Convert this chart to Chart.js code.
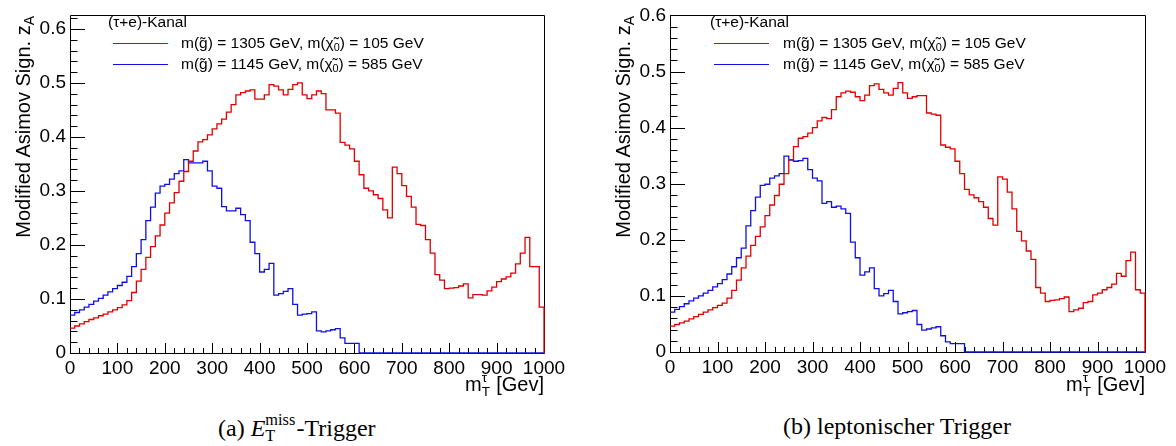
<!DOCTYPE html>
<html>
<head>
<meta charset="utf-8">
<script src="https://cdn.jsdelivr.net/npm/chart.js@4.4.0/dist/chart.umd.min.js"></script>
<style>
  body { margin: 0; background: #fff; width: 1176px; height: 446px; position: relative; overflow: hidden;
         font-family: "Liberation Sans", Arial, sans-serif; color: #000; }
  canvas { position: absolute; top: 0; }
  .txt { position: absolute; white-space: nowrap; }
  .ytitle { width: 260px; height: 24px; line-height: 24px; font-size: 20px; text-align: right; transform: rotate(-90deg); }
  .xtitle { font-size: 20px; line-height: 24px; text-align: right; }
  .leg { font-size: 15.5px; line-height: 18px; }
  .legline { position: absolute; width: 55px; height: 0; border-top: 1.3px solid; }
  .cap { font-family: "Liberation Serif", "Times New Roman", serif; font-size: 24px; line-height: 28px; }
  .stack { position: relative; display: inline-block; height: 1em; }
  .stack span { position: absolute; left: 0; font-size: 0.68em; line-height: 1; }
  .stack .up { top: 0; }
  .stack .dn { top: 1em; }
  sub { font-size: 0.7em; vertical-align: -0.3em; }
</style>
</head>
<body>
<canvas id="chartA"></canvas>
<canvas id="chartB"></canvas>

<div class="txt ytitle" style="left:-107px;top:134px">Modified Asimov Sign. z<sub>A</sub></div>
<div class="txt ytitle" style="left:493px;top:134px">Modified Asimov Sign. z<sub>A</sub></div>

<div class="txt leg" style="left:108px;top:13px">(τ+e)-Kanal</div>
<div class="legline" style="left:113px;top:43px;border-color:#e00000"></div>
<div class="txt leg" style="left:181px;top:34px">m(g̃) = 1305 GeV, m(χ̃<sub>0</sub>) = 105 GeV</div>
<div class="legline" style="left:113px;top:64px;border-color:#1010e0"></div>
<div class="txt leg" style="left:181px;top:55px">m(g̃) = 1145 GeV, m(χ̃<sub>0</sub>) = 585 GeV</div>

<div class="txt leg" style="left:710px;top:13px">(τ+e)-Kanal</div>
<div class="legline" style="left:714px;top:43px;border-color:#e00000"></div>
<div class="txt leg" style="left:783px;top:34px">m(g̃) = 1305 GeV, m(χ̃<sub>0</sub>) = 105 GeV</div>
<div class="legline" style="left:714px;top:64px;border-color:#1010e0"></div>
<div class="txt leg" style="left:783px;top:55px">m(g̃) = 1145 GeV, m(χ̃<sub>0</sub>) = 585 GeV</div>

<div class="txt xtitle" style="right:632px;top:371px">m<span class="stack" style="width:0.45em"><span class="up">τ</span><span class="dn">T</span></span> [Gev]</div>
<div class="txt xtitle" style="right:31px;top:371px">m<span class="stack" style="width:0.45em"><span class="up">τ</span><span class="dn">T</span></span> [Gev]</div>

<div class="txt cap" style="left:218px;top:412px">(a) <i>E</i><span class="stack" style="width:1.3em"><span class="up">miss</span><span class="dn">T</span></span>-Trigger</div>
<div class="txt cap" style="left:783px;top:412px">(b) leptonischer Trigger</div>

<script>
// m_T^tau bins, 10 GeV wide; the last edge closes the histogram
const binEdges = [];
for (let e = 0; e <= 1000; e += 10) binEdges.push(e);

const xTickValues = [0, 100, 200, 300, 400, 500, 600, 700, 800, 900, 1000];
const yTickValues = [0, 0.1, 0.2, 0.3, 0.4, 0.5, 0.6];

const seriesNames = [
  'm(g) = 1305 GeV, m(chi0) = 105 GeV',
  'm(g) = 1145 GeV, m(chi0) = 585 GeV'
];

// (a) ETmiss trigger
const metRed = [
  0.046, 0.050, 0.054, 0.058, 0.062, 0.065, 0.069, 0.072, 0.076, 0.080,
  0.084, 0.089, 0.097, 0.112, 0.133, 0.155, 0.177, 0.197, 0.217, 0.237,
  0.259, 0.278, 0.297, 0.318, 0.336, 0.355, 0.374, 0.391, 0.395, 0.404,
  0.415, 0.424, 0.433, 0.446, 0.460, 0.478, 0.482, 0.485, 0.487, 0.470,
  0.470, 0.478, 0.497, 0.494, 0.487, 0.478, 0.488, 0.497, 0.500, 0.478,
  0.471, 0.478, 0.485, 0.480, 0.450, 0.450, 0.444, 0.390, 0.385, 0.378,
  0.355, 0.330, 0.305, 0.300, 0.293, 0.286, 0.265, 0.250, 0.344, 0.332,
  0.310, 0.290, 0.270, 0.238, 0.236, 0.210, 0.185, 0.145, 0.135, 0.119,
  0.120, 0.121, 0.124, 0.128, 0.102, 0.108, 0.108, 0.107, 0.115, 0.122,
  0.132, 0.137, 0.141, 0.148, 0.165, 0.185, 0.214, 0.160, 0.160, 0.085,
  0
];
const metBlue = [
  0.070, 0.075, 0.080, 0.085, 0.090, 0.096, 0.101, 0.107, 0.113, 0.119,
  0.125, 0.131, 0.142, 0.160, 0.184, 0.210, 0.245, 0.270, 0.296, 0.309,
  0.312, 0.322, 0.332, 0.337, 0.358, 0.352, 0.352, 0.352, 0.355, 0.337,
  0.309, 0.305, 0.271, 0.263, 0.263, 0.268, 0.256, 0.245, 0.205, 0.184,
  0.150, 0.155, 0.166, 0.107, 0.110, 0.114, 0.119, 0.090, 0.070, 0.072,
  0.073, 0.076, 0.041, 0.039, 0.041, 0.043, 0.045, 0.028, 0.018, 0.018,
  0.018, 0, 0, 0, 0, 0, 0, 0, 0, 0,
  0, 0, 0, 0, 0, 0, 0, 0, 0, 0,
  0, 0, 0, 0, 0, 0, 0, 0, 0, 0,
  0, 0, 0, 0, 0, 0, 0, 0, 0, 0,
  0
];

// (b) lepton trigger
const lepRed = [
  0.046, 0.049, 0.052, 0.055, 0.059, 0.063, 0.067, 0.071, 0.075, 0.079,
  0.083, 0.087, 0.096, 0.110, 0.128, 0.150, 0.171, 0.190, 0.206, 0.223,
  0.243, 0.262, 0.279, 0.299, 0.318, 0.343, 0.366, 0.381, 0.384, 0.390,
  0.400, 0.412, 0.418, 0.416, 0.432, 0.455, 0.462, 0.465, 0.463, 0.455,
  0.448, 0.458, 0.475, 0.478, 0.468, 0.462, 0.458, 0.470, 0.480, 0.462,
  0.452, 0.455, 0.457, 0.457, 0.426, 0.424, 0.422, 0.369, 0.365, 0.362,
  0.340, 0.318, 0.290, 0.280, 0.275, 0.268, 0.258, 0.238, 0.226, 0.312,
  0.308, 0.285, 0.255, 0.215, 0.198, 0.180, 0.165, 0.115, 0.105, 0.090,
  0.092, 0.093, 0.095, 0.098, 0.072, 0.075, 0.078, 0.088, 0.090, 0.102,
  0.105, 0.111, 0.115, 0.121, 0.140, 0.135, 0.163, 0.178, 0.111, 0.105,
  0
];
const lepBlue = [
  0.071, 0.076, 0.081, 0.086, 0.091, 0.096, 0.100, 0.105, 0.110, 0.116,
  0.122, 0.129, 0.139, 0.152, 0.168, 0.185, 0.225, 0.252, 0.276, 0.297,
  0.299, 0.310, 0.314, 0.318, 0.349, 0.342, 0.340, 0.341, 0.345, 0.325,
  0.310, 0.305, 0.265, 0.268, 0.258, 0.260, 0.255, 0.247, 0.196, 0.168,
  0.137, 0.143, 0.150, 0.113, 0.100, 0.104, 0.110, 0.090, 0.068, 0.070,
  0.072, 0.074, 0.049, 0.039, 0.041, 0.043, 0.045, 0.029, 0.018, 0.015,
  0.015, 0.015, 0, 0, 0, 0, 0, 0, 0, 0,
  0, 0, 0, 0, 0, 0, 0, 0, 0, 0,
  0, 0, 0, 0, 0, 0, 0, 0, 0, 0,
  0, 0, 0, 0, 0, 0, 0, 0, 0, 0,
  0
];

Chart.defaults.font.family = '"Liberation Sans", Arial, sans-serif';
Chart.defaults.color = '#000';

// ROOT-like frame with ticks pointing into the pad
const rootFrame = {
  id: 'rootFrame',
  beforeDatasetsDraw(chart) {
    const { ctx, chartArea: a, scales } = chart;
    const xs = scales.x, ys = scales.y;
    ctx.save();
    ctx.strokeStyle = '#000';
    ctx.lineWidth = 1;
    ctx.beginPath();
    ctx.rect(Math.round(a.left) + 0.5, Math.round(a.top) + 0.5,
             Math.round(a.right - a.left), Math.round(a.bottom - a.top));
    for (let v = 0; v <= 1000; v += 20) {
      const px = Math.round(xs.getPixelForValue(v)) + 0.5;
      const len = v % 100 === 0 ? 10 : 5;
      ctx.moveTo(px, a.bottom);
      ctx.lineTo(px, a.bottom - len);
    }
    for (let k = 0; k * 0.02 <= ys.max + 1e-9; k++) {
      const py = Math.round(ys.getPixelForValue(k * 0.02)) + 0.5;
      const len = k % 5 === 0 ? 15 : 7.5;
      ctx.moveTo(a.left, py);
      ctx.lineTo(a.left + len, py);
    }
    ctx.stroke();
    ctx.restore();
  }
};

function makeChart(id, left, width, height, yMax, bottomPx, padRight, red, blue) {
  const cv = document.getElementById(id);
  cv.style.left = left + 'px';
  cv.width = width;
  cv.height = height;
  const toPts = vals => binEdges.map((x, i) => ({ x: x, y: vals[i] }));
  return new Chart(cv, {
    type: 'line',
    data: {
      datasets: [
        { label: seriesNames[0], data: toPts(red), borderColor: '#e00000' },
        { label: seriesNames[1], data: toPts(blue), borderColor: '#1010e0' }
      ]
    },
    options: {
      responsive: false,
      animation: false,
      events: [],
      layout: { padding: { left: 0, right: padRight, top: 13, bottom: 0 } },
      elements: {
        line: { stepped: true, borderWidth: 1.3, fill: false },
        point: { radius: 0 }
      },
      datasets: { line: { clip: false } },
      plugins: { legend: { display: false }, tooltip: { enabled: false } },
      scales: {
        x: {
          type: 'linear', min: 0, max: 1000,
          grid: { display: false, drawTicks: false },
          border: { display: false },
          afterBuildTicks: s => { s.ticks = xTickValues.map(v => ({ value: v })); },
          afterFit: s => { s.height = height - bottomPx; },
          ticks: { font: { size: 19 }, padding: 4, maxRotation: 0, autoSkip: false, callback: v => String(v) }
        },
        y: {
          min: 0, max: yMax,
          grid: { display: false, drawTicks: false },
          border: { display: false },
          afterBuildTicks: s => { s.ticks = yTickValues.map(v => ({ value: v })); },
          afterFit: s => { s.width = 70; },
          ticks: { font: { size: 19 }, padding: 4, callback: v => v === 0 ? '0' : v.toFixed(1) }
        }
      }
    },
    plugins: [rootFrame]
  });
}

makeChart('chartA', 0, 588, 400, 0.625, 353, 44, metRed, metBlue);
makeChart('chartB', 600, 576, 400, 0.6, 352, 31, lepRed, lepBlue);
</script>
</body>
</html>
